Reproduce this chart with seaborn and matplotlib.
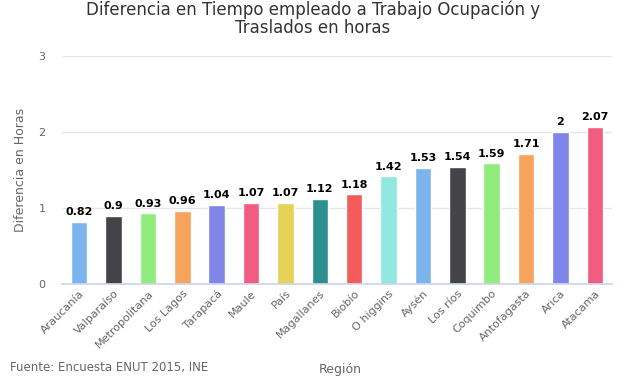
import matplotlib
matplotlib.use("Agg")
import matplotlib.pyplot as plt
import seaborn as sns
import pandas as pd

regiones = ["Araucanía", "Valparaíso", "Metropolitana", "Los Lagos", "Tarapacá",
            "Maule", "País", "Magallanes", "Biobío", "O higgins", "Aysén",
            "Los ríos", "Coquimbo", "Antofagasta", "Arica", "Atacama"]
horas = [0.82, 0.9, 0.93, 0.96, 1.04, 1.07, 1.07, 1.12, 1.18, 1.42, 1.53,
         1.54, 1.59, 1.71, 2, 2.07]
etiquetas = ["0.82", "0.9", "0.93", "0.96", "1.04", "1.07", "1.07", "1.12", "1.18",
             "1.42", "1.53", "1.54", "1.59", "1.71", "2", "2.07"]

paleta = ["#7cb5ec", "#434348", "#90ed7d", "#f7a35c", "#8085e9", "#f15c80",
          "#e4d354", "#2b908f", "#f45b5b", "#91e8e1"]
colores = [paleta[i % len(paleta)] for i in range(len(regiones))]

df = pd.DataFrame({"region": regiones, "horas": horas})

sns.set_theme(style="white")
plt.rcParams["font.family"] = ["DejaVu Sans"]

fig = plt.figure(figsize=(6.27, 3.76), dpi=100)
ax = fig.add_axes([62 / 627, 1 - 284 / 376, 550 / 627, 228 / 376])

sns.barplot(data=df, x="region", y="horas", hue="region", palette=colores,
            legend=False, width=0.48, ax=ax, saturation=1)

for i, (v, t) in enumerate(zip(horas, etiquetas)):
    ax.text(i, v + 0.06, t, ha="center", va="bottom", fontsize=8,
            fontweight="bold", color="#000000")

ax.set_ylim(0, 3)
ax.set_yticks([0, 1, 2, 3])
ax.set_xlim(-0.5, len(regiones) - 0.5)
ax.yaxis.grid(True, color="#e6e6e6", linewidth=1)
ax.set_axisbelow(True)
for s in ["top", "right", "left"]:
    ax.spines[s].set_visible(False)
ax.spines["bottom"].set_color("#ccd6eb")
ax.tick_params(axis="y", colors="#666666", labelsize=8, length=0, pad=12)
ax.tick_params(axis="x", colors="#666666", labelsize=8, length=0, pad=3)
plt.setp(ax.get_xticklabels(), rotation=45, ha="right", rotation_mode="anchor")

ax.set_ylabel("Diferencia en Horas", color="#666666", fontsize=9, labelpad=8)
ax.set_xlabel("")

fig.text(340 / 627, 1 - 369 / 376, "Región", ha="center", va="center",
         color="#666666", fontsize=9)
fig.text(10 / 627, 1 - 368 / 376, "Fuente: Encuesta ENUT 2015, INE", ha="left",
         va="center", color="#666666", fontsize=8.5)
fig.text(313 / 627, 1 - 37 / 376,
         "Diferencia en Tiempo empleado a Trabajo Ocupación y\nTraslados en horas",
         ha="center", va="bottom", color="#333333", fontsize=12, linespacing=1.0)

fig.savefig("out.png", dpi=100)
